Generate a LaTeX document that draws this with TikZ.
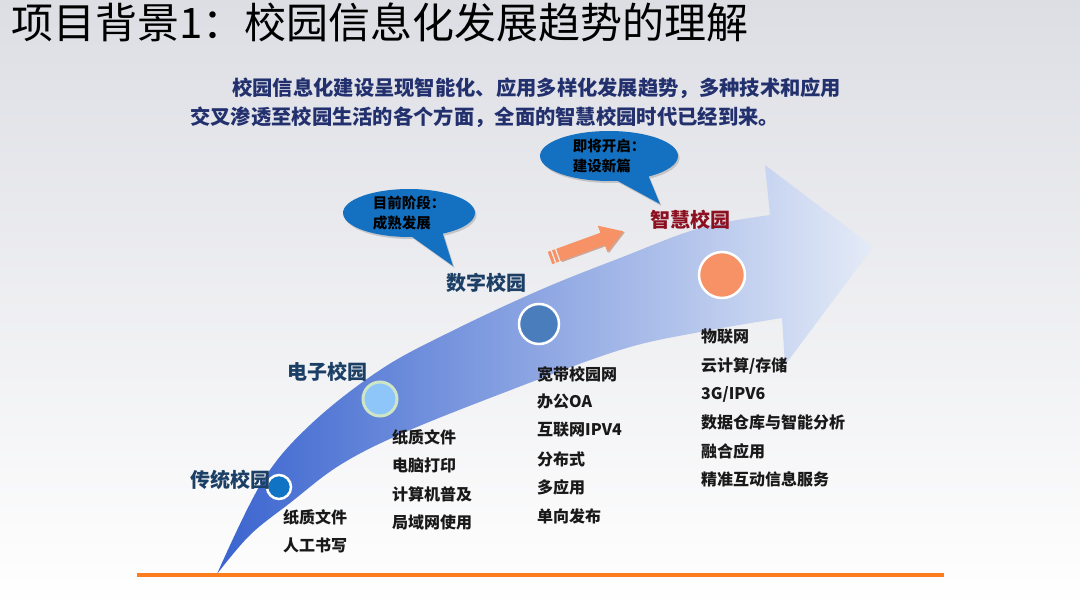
\documentclass[tikz,border=0pt]{standalone}
\usepackage{fontspec}
\setmainfont{Noto Sans CJK SC}
\usetikzlibrary{shapes.callouts,shadows}
\definecolor{navy}{RGB}{35,48,110}
\definecolor{stageblue}{RGB}{28,63,102}
\definecolor{smartred}{RGB}{140,16,32}
\definecolor{bubbleblue}{RGB}{20,112,192}
\definecolor{peach}{RGB}{247,146,102}
\definecolor{lineorange}{RGB}{251,125,30}
\definecolor{bandA}{RGB}{58,100,207}
\definecolor{bandB}{RGB}{176,198,236}
\definecolor{bandC}{RGB}{228,235,247}

\begin{document}
\begin{tikzpicture}[x=1pt,y=-1pt,
    stage/.style={anchor=west, inner sep=0pt, text=stageblue, font=\fontsize{20}{24}\selectfont\bfseries},
    item/.style={anchor=west, inner sep=0pt, text=black!90, font=\fontsize{16}{19}\selectfont\bfseries},
    stagedot/.style={circle, draw=white, line width=2.5pt, inner sep=0pt},
    bubble/.style={ellipse callout, fill=bubbleblue, callout pointer arc=28, align=left, inner sep=0pt,
        font=\fontsize{14.5}{19.5}\selectfont\bfseries, drop shadow={opacity=0.35, shadow xshift=1.5pt, shadow yshift=-2pt}}]

        % Background
        \shade[top color={rgb,255:red,221;green,222;blue,228}, bottom color=white] (0,0) rectangle (1080,608);
        \useasboundingbox (0,0) rectangle (1080,608);

        % Title and intro
        \node[anchor=west, inner sep=0pt, font=\fontsize{42}{50}\selectfont] (title) at (11,22) {项目背景1：校园信息化发展趋势的理解};
        \node[anchor=west, inner sep=0pt, text=navy, font=\fontsize{20.3}{24}\selectfont\bfseries]
            (introA) at (232,88) {校园信息化建设呈现智能化、应用多样化发展趋势，多种技术和应用};
        \node[anchor=west, inner sep=0pt, text=navy, font=\fontsize{20.3}{24}\selectfont\bfseries]
            (introB) at (190,117) {交叉渗透至校园生活的各个方面，全面的智慧校园时代已经到来。};

        % Big curved arrow
        \shade[left color=bandA, middle color=bandB, right color=bandC]
            plot[smooth, tension=0.6] coordinates {(217,574) (262,482) (310,425) (380,370) (450,332) (540,290) (620,258) (700,228) (770,215)}
            -- (765,165) -- (873,247) -- (785,365) -- (782,318)
            -- plot[smooth, tension=0.6] coordinates {(782,318) (700,332) (620,350) (503,393) (403,433) (340,465) (290,503) (250,535) (217,574)}
            -- cycle;

        % Stage dots
        \node[stagedot, fill={rgb,255:red,17;green,115;blue,196}, minimum size=24] (dotTrad) at (279,487) {};
        \node[stagedot, draw={rgb,255:red,207;green,230;blue,198}, line width=3pt, fill={rgb,255:red,142;green,198;blue,250}, minimum size=34] (dotElec) at (380,399) {};
        \node[stagedot, fill={rgb,255:red,74;green,125;blue,188}, minimum size=40] (dotDigi) at (539,324) {};
        \node[stagedot, fill=peach, minimum size=46] (dotSmart) at (722,275) {};

        % Stage labels
        \node[stage] (lblTrad) at (190,480) {传统校园};
        \node[stage] (lblElec) at (287,372) {电子校园};
        \node[stage] (lblDigi) at (446,283) {数字校园};
        \node[stage, text=smartred] (lblSmart) at (650,220) {智慧校园};

        % Traditional campus items
        \node[item] (tradA) at (283,517) {纸质文件};
        \node[item] (tradB) at (283,545) {人工书写};

        % Electronic campus items
        \node[item] (elecA) at (392,437) {纸质文件};
        \node[item] (elecB) at (392,465) {电脑打印};
        \node[item] (elecC) at (392,494) {计算机普及};
        \node[item] (elecD) at (392,522) {局域网使用};

        % Digital campus items
        \node[item] (digiA) at (537,374) {宽带校园网};
        \node[item] (digiB) at (537,402) {办公OA};
        \node[item] (digiC) at (537,430) {互联网IPV4};
        \node[item] (digiD) at (537,459) {分布式};
        \node[item] (digiE) at (537,487) {多应用};
        \node[item] (digiF) at (537,516) {单向发布};

        % Smart campus items
        \node[item] (smartA) at (701,337) {物联网};
        \node[item] (smartB) at (701,366) {云计算/存储};
        \node[item] (smartC) at (701,394) {3G/IPV6};
        \node[item] (smartD) at (701,422) {数据仓库与智能分析};
        \node[item] (smartE) at (701,451) {融合应用};
        \node[item] (smartF) at (701,479) {精准互动信息服务};

        % Speech bubbles
        \coordinate (tipNow) at (453,266);
        \coordinate (tipNext) at (660,204);
        \node[bubble, minimum width=132, minimum height=48, callout absolute pointer=(tipNow)]
            (bubNow) at (409,213) {目前阶段：\\成熟发展};
        \node[bubble, minimum width=138, minimum height=50, callout absolute pointer=(tipNext)]
            (bubNext) at (609,156) {即将开启：\\建设新篇};

        % Small orange arrow
        \begin{scope}[shift={(550,258)}, rotate=20]
        \fill[peach!70!black, opacity=0.5] (10,-5) -- (57,-5) -- (57,-12.5) -- (79,1.5) -- (57,15.5) -- (57,8) -- (10,8) -- cycle;
        \fill[peach] (9,-6.5) -- (56,-6.5) -- (56,-14) -- (78,0) -- (56,14) -- (56,6.5) -- (9,6.5) -- cycle;
        \fill[peach] (0,-6.5) rectangle (3,6.5);
        \fill[peach] (4.5,-6.5) rectangle (7.5,6.5);
        \end{scope}

        % Base line
        \draw[lineorange, line width=4.5pt] (137,575) -- (944,575);
    \end{tikzpicture}
\end{document}
